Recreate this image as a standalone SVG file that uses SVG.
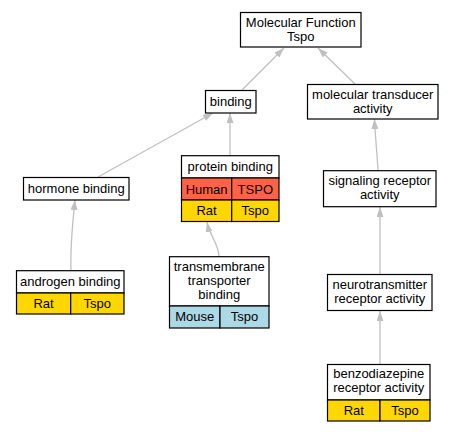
<svg xmlns="http://www.w3.org/2000/svg" width="455" height="432" viewBox="0 0 455 432">
<style>
.b{fill:#fff;stroke:#000;stroke-width:1.2}
.r{fill:#ffd700;stroke:#000;stroke-width:1.2}
.h{fill:#ff6347;stroke:#000;stroke-width:1.2}
.m{fill:#add8e6;stroke:#000;stroke-width:1.2}
text{font-family:"Liberation Sans",Arial,sans-serif;font-size:13px;text-anchor:middle;fill:#000}
.e{fill:none;stroke:#c0c0c0;stroke-width:1.3;marker-end:url(#a)}
</style>
<defs>
<marker id="a" viewBox="0 0 10 7" refX="10" refY="3.5" markerWidth="10" markerHeight="7" markerUnits="userSpaceOnUse" orient="auto">
<path d="M0,0 L10,3.5 L0,7 z" fill="#c0c0c0"/>
</marker>
</defs>
<rect width="455" height="432" fill="#fff"/>
<g id="edges">
<path class="e" d="M242,90 L284,48"/>
<path class="e" d="M355,84 L318,48"/>
<path class="e" d="M98,177 L213,113"/>
<path class="e" d="M230,155.7 L230,113"/>
<path class="e" d="M378,170.7 C377,150 375,135 374.5,119"/>
<path class="e" d="M71,270.7 C70,245 73,220 75,200"/>
<path class="e" d="M219,256.7 C219,245 210,236 207,222"/>
<path class="e" d="M380,274 L380,207"/>
<path class="e" d="M380,364 L380,311"/>
</g>
<g id="mf">
<rect class="b" x="240.5" y="12.5" width="120.5" height="34.5"/>
<text x="300.75" y="27">Molecular Function</text>
<text x="300.75" y="41">Tspo</text>
</g>
<g id="binding">
<rect class="b" x="205.5" y="90.5" width="50.5" height="22.5"/>
<text x="230.75" y="106">binding</text>
</g>
<g id="mt">
<rect class="b" x="307.5" y="84.5" width="130.5" height="34.5"/>
<text x="372.75" y="99">molecular transducer</text>
<text x="372.75" y="113">activity</text>
</g>
<g id="hormone">
<rect class="b" x="23.5" y="177.5" width="105.5" height="22.5"/>
<text x="76.25" y="193">hormone binding</text>
</g>
<g id="protein">
<rect class="b" x="181.5" y="155.7" width="97.5" height="22.3"/>
<rect class="h" x="181.5" y="178" width="50.2" height="22"/>
<rect class="h" x="231.7" y="178" width="47.3" height="22"/>
<rect class="r" x="181.5" y="200" width="50.2" height="21.5"/>
<rect class="r" x="231.7" y="200" width="47.3" height="21.5"/>
<text x="230.25" y="171">protein binding</text>
<text x="206.6" y="193.5">Human</text>
<text x="255.3" y="193.5">TSPO</text>
<text x="206.6" y="215">Rat</text>
<text x="255.3" y="215">Tspo</text>
</g>
<g id="androgen">
<rect class="b" x="16.5" y="270.7" width="107.5" height="22.3"/>
<rect class="r" x="16.5" y="293" width="54.2" height="21"/>
<rect class="r" x="70.7" y="293" width="53.3" height="21"/>
<text x="70.25" y="286">androgen binding</text>
<text x="43.6" y="308">Rat</text>
<text x="97.35" y="308">Tspo</text>
</g>
<g id="transmembrane">
<rect class="b" x="169.5" y="256.7" width="99.5" height="49.3"/>
<rect class="m" x="169.5" y="306" width="50.5" height="22"/>
<rect class="m" x="220" y="306" width="49" height="22"/>
<text x="219.25" y="271">transmembrane</text>
<text x="219.25" y="285">transporter</text>
<text x="219.25" y="299">binding</text>
<text x="194.75" y="321">Mouse</text>
<text x="244.5" y="321">Tspo</text>
</g>
<g id="signaling">
<rect class="b" x="323.5" y="170.7" width="112.5" height="36"/>
<text x="379.75" y="185">signaling receptor</text>
<text x="379.75" y="199">activity</text>
</g>
<g id="neuro">
<rect class="b" x="327.5" y="274.5" width="104.5" height="36"/>
<text x="379.75" y="289">neurotransmitter</text>
<text x="379.75" y="303">receptor activity</text>
</g>
<g id="benzo">
<rect class="b" x="327.5" y="364.5" width="102.5" height="35.5"/>
<rect class="r" x="327.5" y="400" width="52.5" height="21"/>
<rect class="r" x="380" y="400" width="50" height="21"/>
<text x="378.75" y="378">benzodiazepine</text>
<text x="378.75" y="392">receptor activity</text>
<text x="353.75" y="415">Rat</text>
<text x="405" y="415">Tspo</text>
</g>
</svg>
